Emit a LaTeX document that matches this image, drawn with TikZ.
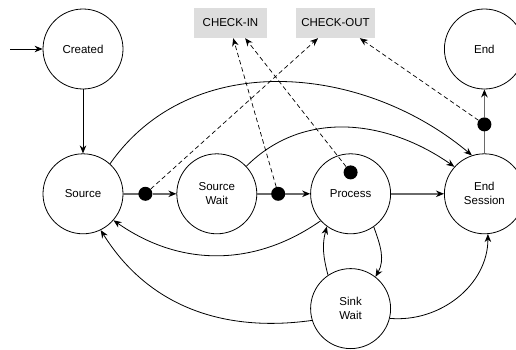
\documentclass[tikz,border=0pt]{standalone}
\usepackage{fontspec}
\setmainfont{Liberation Sans}
\usepackage{xcolor}
\definecolor{tagfill}{HTML}{DDDDDD}
\definecolor{flow}{HTML}{6A6A6A}
\usepackage{tikz}
\usetikzlibrary{arrows.meta, positioning}

\begin{document}
\begin{tikzpicture}[x=1pt, y=1pt, >={Stealth[length=8pt,width=6.5pt]},
  statenode/.style={draw, circle, line width=0.8pt, minimum size=80pt,
    inner sep=0pt, align=center, font=\fontsize{11.5}{14}\selectfont},
  tagbox/.style={fill=tagfill, minimum height=30pt, inner sep=0pt,
    font=\fontsize{11.5}{14}\selectfont},
  junction/.style={circle, fill=black, minimum size=14pt, inner sep=0pt},
  edge/.style={->, line width=0.8pt},
  mainflow/.style={line width=1.4pt, color=flow},
  hook/.style={->, dash pattern=on 4.5pt off 3pt, line width=0.7pt}]
  \useasboundingbox (0,0) rectangle (516,349);

  % states
  \node[statenode] (created) at (83,300) {Created};
  \node[statenode, below=64pt of created] (source) {Source};
  \node[statenode, right=53pt of source] (sourcewait) {Source\\Wait};
  \node[statenode, right=53pt of sourcewait] (process) {Process};
  \node[statenode, right=53pt of process] (endsession) {End\\Session};
  \node[statenode, above=64pt of endsession] (end) {End};
  \node[statenode, below=34pt of process] (sinkwait) {Sink\\Wait};

  % hooks
  \node[tagbox, minimum width=73pt] (checkin) at (230.5,326) {CHECK-IN};
  \node[tagbox, minimum width=79pt] (checkout) at (335.5,326) {CHECK-OUT};

  \coordinate (start) at (10,300);
  \draw[edge] (start) -- (created);
  \draw[edge] (created) -- (source);

  % main flow with junction points
  \draw[mainflow] (source) -- ([xshift=22pt]source.east);
  \node[junction] (j1) at ([xshift=22pt]source.east) {};
  \draw[mainflow, -{Stealth[length=8pt,width=6.5pt,black]}] (j1) -- (sourcewait);
  \draw[mainflow] (sourcewait) -- ([xshift=21pt]sourcewait.east);
  \node[junction] (j2) at ([xshift=21pt]sourcewait.east) {};
  \draw[mainflow, -{Stealth[length=8pt,width=6.5pt,black]}] (j2) -- (process);
  \draw[mainflow, -{Stealth[length=8pt,width=6.5pt,black]}] (process) -- (endsession);
  \node[junction] (j3) at ([yshift=-19pt]process.north) {};
  \draw[mainflow] (endsession) -- ([yshift=29pt]endsession.north);
  \node[junction] (j4) at ([yshift=29pt]endsession.north) {};
  \draw[mainflow, -{Stealth[length=8pt,width=6.5pt,black]}] (j4) -- (end);

  % other transitions
  \draw[edge] (source.48) to[out=55, in=140] (endsession.108);
  \draw[edge] (sourcewait.43) to[out=45, in=145] (endsession.138);
  \draw[edge] (process.222) to[out=215, in=-35] (source.-41);
  \draw[edge] (sinkwait.197) to[out=188, in=-58] (source.-64);
  \draw[edge] (process.-55) to[out=-70, in=60] (sinkwait.52);
  \draw[edge] (sinkwait.124) to[out=105, in=-105] (process.234);
  \draw[edge] (sinkwait.-14) to[out=-5, in=-90] (endsession.-85);

  % dashed hooks
  \draw[hook] (j1) -- (checkout.221);
  \draw[hook] (j2) -- (checkin.-80);
  \draw[hook] (j3) -- (checkin.-46);
  \draw[hook] (j4) -- (checkout.-32);
\end{tikzpicture}
\end{document}
